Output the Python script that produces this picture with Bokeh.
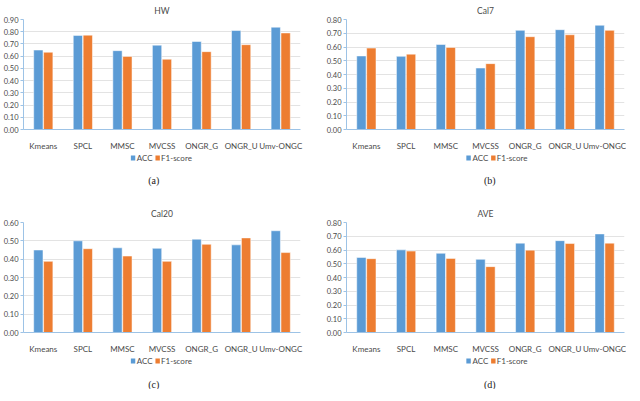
from bokeh.plotting import figure
from bokeh.layouts import column, row
from bokeh.models import ColumnDataSource, FactorRange, Range1d, FixedTicker, NumeralTickFormatter
from bokeh.transform import dodge
from bokeh.embed import file_html
from bokeh.resources import INLINE

methods = ["Kmeans", "SPCL", "MMSC", "MVCSS", "ONGR_G", "ONGR_U", "Umv-ONGC"]

hw_acc = [0.65, 0.77, 0.645, 0.69, 0.72, 0.81, 0.837]
hw_f1 = [0.632, 0.772, 0.598, 0.575, 0.637, 0.694, 0.790]

cal7_acc = [0.535, 0.532, 0.618, 0.447, 0.721, 0.726, 0.758]
cal7_f1 = [0.592, 0.548, 0.597, 0.479, 0.675, 0.689, 0.721]

cal20_acc = [0.450, 0.500, 0.462, 0.459, 0.509, 0.478, 0.555]
cal20_f1 = [0.388, 0.457, 0.417, 0.388, 0.481, 0.516, 0.436]

ave_acc = [0.546, 0.601, 0.576, 0.532, 0.650, 0.668, 0.717]
ave_f1 = [0.537, 0.592, 0.539, 0.479, 0.599, 0.647, 0.650]

series_names = ["ACC", "F1-score"]

panels = [
    ("HW", "(a)", hw_acc, hw_f1, 0.90),
    ("Cal7", "(b)", cal7_acc, cal7_f1, 0.80),
    ("Cal20", "(c)", cal20_acc, cal20_f1, 0.60),
    ("AVE", "(d)", ave_acc, ave_f1, 0.80),
]

BLUE = "#5B9BD5"
ORANGE = "#ED7D31"
AXIS = "#9DC3E6"
GRID = "#E3E3E3"
TXT = "#4a4a4a"
FONT = "Lato"


def make_chart(name, acc, f1, ymax, left):
    src = ColumnDataSource(dict(m=methods, acc=acc, f1=f1))
    p = figure(x_range=FactorRange(*methods), y_range=Range1d(0, ymax),
               frame_width=277 if left else 278, frame_height=110,
               output_backend="svg", toolbar_location=None,
               min_border_left=21 if left else 32, min_border_right=14 if left else 2,
               min_border_top=19, min_border_bottom=22)
    p.outline_line_color = None
    p.vbar(x=dodge("m", -0.125, range=p.x_range), top="acc", width=0.235, source=src,
           fill_color=BLUE, line_color="white", line_width=0.5)
    p.vbar(x=dodge("m", 0.125, range=p.x_range), top="f1", width=0.235, source=src,
           fill_color=ORANGE, line_color="white", line_width=0.5)
    p.title.text = name
    p.title.align = "center"
    p.title.text_font = FONT
    p.title.text_font_size = "8.5px"
    p.title.text_font_style = "normal"
    p.title.text_color = TXT
    p.title.standoff = 7
    p.title.offset = 0
    ticks = [round(k * 0.1, 2) for k in range(int(round(ymax * 10)) + 1)]
    p.yaxis.ticker = FixedTicker(ticks=ticks)
    p.yaxis.formatter = NumeralTickFormatter(format="0.00")
    p.yaxis.minor_tick_line_color = None
    p.yaxis.major_tick_out = 3
    p.yaxis.major_tick_in = 0
    p.yaxis.axis_line_color = AXIS
    p.yaxis.major_tick_line_color = AXIS
    p.yaxis.major_label_text_font = FONT
    p.yaxis.major_label_text_font_size = "7.5px"
    p.yaxis.major_label_text_color = TXT
    p.yaxis.major_label_standoff = 2
    p.xaxis.axis_line_color = AXIS
    p.xaxis.major_tick_line_color = None
    p.xaxis.minor_tick_line_color = None
    p.xaxis.major_label_text_font = FONT
    p.xaxis.major_label_text_font_size = "8px"
    p.xaxis.major_label_text_color = TXT
    p.xaxis.major_label_standoff = 5
    p.xgrid.grid_line_color = None
    p.ygrid.grid_line_color = GRID
    p.ygrid.grid_line_width = 1
    return p


def make_footer(cap, left, h, leg_y, cap_y):
    f = figure(width=312, height=h, x_range=Range1d(0, 312), y_range=Range1d(0, h),
               x_axis_type=None, y_axis_type=None, output_backend="svg",
               toolbar_location=None, min_border=0)
    f.outline_line_color = None
    f.xgrid.grid_line_color = None
    f.ygrid.grid_line_color = None
    # legend layout: [blue square x, label x, orange square x, label x]
    pos = [124.3, 128.6, 152.2, 156.0] if left else [137.0, 141.3, 164.8, 168.6]
    cap_x = 147.7 if left else 160.9
    f.rect(x=[pos[0], pos[2]], y=[leg_y, leg_y], width=5, height=5,
           fill_color=[BLUE, ORANGE], line_color=None)
    txt = ColumnDataSource(dict(
        x=[pos[1], pos[3], cap_x],
        y=[leg_y, leg_y, cap_y],
        t=[series_names[0], series_names[1], cap],
        align=["left", "left", "center"],
        font=[FONT, FONT, "Liberation Serif"],
        size=["8px", "8px", "10px"],
        color=[TXT, TXT, "#222222"],
    ))
    f.text(x="x", y="y", text="t", text_align="align", text_baseline="middle",
           text_font="font", text_font_size="size", text_color="color", source=txt)
    return f


cells = []
for i, (name, cap, acc, f1, ymax) in enumerate(panels):
    left = (i % 2 == 0)
    top_row = (i < 2)
    chart = make_chart(name, acc, f1, ymax, left)
    if top_row:
        foot = make_footer(cap, left, 50, 45.5, 23.5)
    else:
        foot = make_footer(cap, left, 33, 28.5, 5.5)
    cells.append(column(chart, foot, spacing=0))

page = column(row(cells[0], cells[1], spacing=0), row(cells[2], cells[3], spacing=0), spacing=0)
open("out.html", "w").write(file_html(page, INLINE))
